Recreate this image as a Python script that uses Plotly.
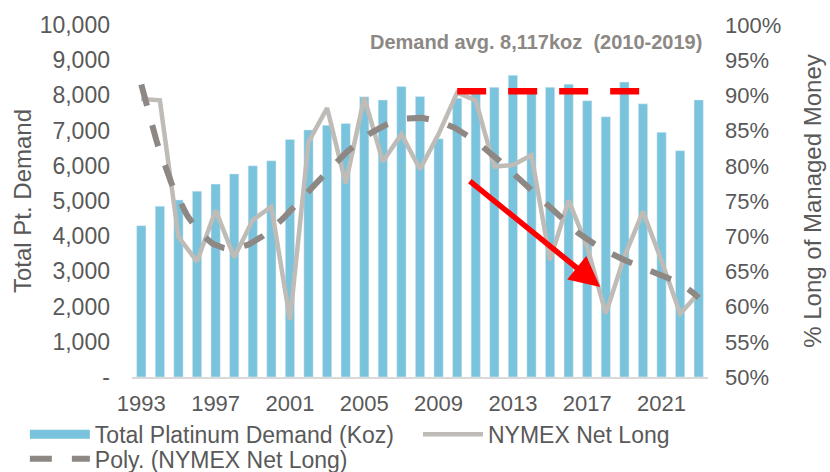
import numpy as np
import plotly.graph_objects as go

# ---- data ----
years = list(range(1993, 2024))
demand_koz = [4300, 4850, 5030, 5280, 5480, 5770, 6000, 6140, 6750, 7020,
              7150, 7200, 7960, 7870, 8250, 7970, 6770, 7920, 8100, 8230,
              8570, 8180, 8230, 8320, 7850, 7390, 8380, 7760, 6950, 6430, 7870]
nymex_long_pct = [89.5, 89.3, 69.9, 66.4, 73.7, 67.0, 72.3, 74.2, 58.1, 83.4,
                  88.2, 77.5, 89.7, 80.6, 84.5, 79.5, 84.5, 90.4, 89.3, 79.9,
                  80.1, 81.5, 66.6, 75.1, 68.5, 59.0, 67.1, 73.5, 66.5, 59.0, 61.9]

avg_span = [2010, 2020]
avg_koz = 8117
arrow_tail = (2010.6, 78.0)
arrow_head = (2017.7, 62.8)

left_ticks = list(range(0, 10001, 1000))
left_text = ['-' if v == 0 else f'{v:,}' for v in left_ticks]
right_ticks = list(range(50, 101, 5))
right_text = [f'{v}%' for v in right_ticks]
x_ticks = list(range(1993, 2022, 4))

BAR = '#79c4dc'
NYMEX = '#bfbbb7'
POLY = '#8d8883'
TXT = '#595959'

# Excel style polynomial trendline (order 6) on the NYMEX series
idx = np.arange(1, len(years) + 1)
coef = np.polyfit(idx, nymex_long_pct, 6)
fine = np.linspace(1, len(years), 300)
trend_x = years[0] + fine - 1
trend_y = np.polyval(coef, fine)

fig = go.Figure()
fig.add_trace(go.Bar(x=years, y=demand_koz, marker_color=BAR, showlegend=False,
                     name='Total Platinum Demand (Koz)'))
# legend swatch drawn as a wide block like the original
fig.add_trace(go.Scatter(x=[None], y=[None], mode='lines', line=dict(color=BAR, width=9),
                         name='Total Platinum Demand (Koz)', legend='legend'))
fig.add_trace(go.Scatter(x=years, y=nymex_long_pct, mode='lines', yaxis='y2',
                         line=dict(color=NYMEX, width=4.5), name='NYMEX Net Long',
                         legend='legend2'))
fig.add_trace(go.Scatter(x=trend_x, y=trend_y, mode='lines', yaxis='y2',
                         line=dict(color=POLY, width=6, dash='22px,20px'),
                         name='Poly. (NYMEX Net Long)', legend='legend3'))

fig.add_shape(type='line', xref='x', yref='y', x0=avg_span[0], x1=avg_span[1],
              y0=avg_koz, y1=avg_koz, layer='above',
              line=dict(color='#ff0000', width=6.5, dash='29px,22px'))

fig.add_annotation(x=arrow_head[0], y=arrow_head[1], xref='x', yref='y2',
                   ax=arrow_tail[0], ay=arrow_tail[1], axref='x', ayref='y2',
                   showarrow=True, arrowhead=2, arrowsize=1.1, arrowwidth=5.5,
                   arrowcolor='#ff0000', text='')
fig.add_annotation(x=0.701, y=0.952, xref='paper', yref='paper', showarrow=False,
                   xanchor='center', yanchor='middle',
                   text='<b>Demand avg. 8,117koz  (2010-2019)</b>',
                   font=dict(size=20, color='#8c8884'))

legend_style = dict(orientation='h', xanchor='left', yanchor='top', itemwidth=60,
                    font=dict(size=23, color=TXT), bgcolor='rgba(0,0,0,0)')

fig.update_layout(
    width=830, height=472,
    margin=dict(l=132, r=122, t=25, b=95, autoexpand=False),
    paper_bgcolor='white', plot_bgcolor='white',
    font=dict(family='Liberation Sans, Arial, sans-serif', size=22, color=TXT),
    bargap=0.5,
    xaxis=dict(range=[1992.5, 2023.5], tickvals=x_ticks, showgrid=False, zeroline=False,
               showline=True, linecolor='#d9d9d9', linewidth=1.5, ticks='',
               ticklabelstandoff=6, tickfont=dict(size=22, color=TXT)),
    yaxis=dict(range=[0, 10000], tickvals=left_ticks, ticktext=left_text,
               showgrid=False, zeroline=False, ticks='', ticklabelstandoff=21,
               tickfont=dict(size=23, color=TXT),
               title=dict(text='Total Pt. Demand', font=dict(size=24, color=TXT), standoff=1)),
    yaxis2=dict(range=[50, 100], overlaying='y', side='right', tickvals=right_ticks,
                ticktext=right_text, showgrid=False, zeroline=False, ticks='',
                ticklabelstandoff=16, tickfont=dict(size=22, color=TXT),
                title=dict(text='% Long of Managed Money', font=dict(size=24, color=TXT),
                           standoff=23)),
    legend=dict(x=-0.186, y=-0.102, **legend_style),
    legend2=dict(x=0.4965, y=-0.102, **legend_style),
    legend3=dict(x=-0.186, y=-0.171, **legend_style),
)

# drop the default page margin so the figure sits at the window's corner
fig.write_html('out.html', config={'displayModeBar': False},
               post_script="document.body.style.margin='0';")
